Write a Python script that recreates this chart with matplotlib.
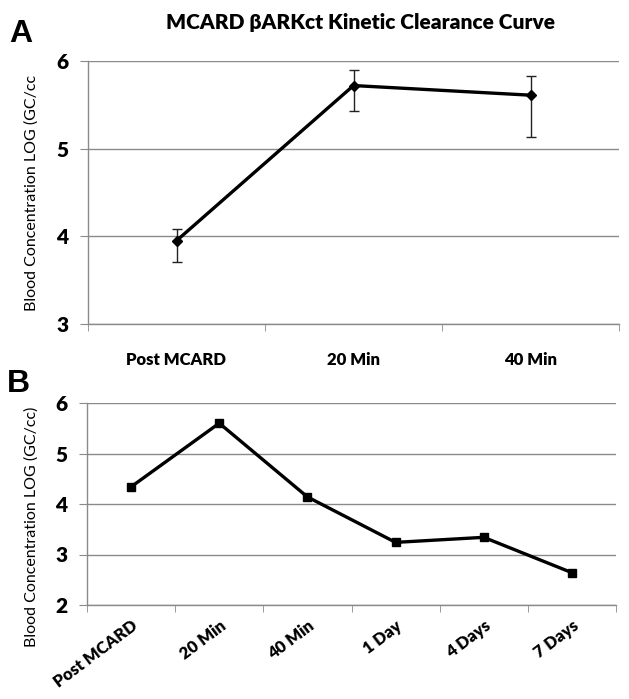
import numpy as np
import matplotlib
matplotlib.use('Agg')
import matplotlib.pyplot as plt

plt.rcParams['font.family'] = ['Lato', 'DejaVu Sans']

# Panel A: kinetic clearance, mean with error bars
cats_a = ['Post MCARD', '20 Min', '40 Min']
vals_a = [3.95, 5.72, 5.61]
err_lo_a = [3.71, 5.43, 5.13]
err_hi_a = [4.08, 5.90, 5.83]

# Panel B: longer time course
cats_b = ['Post MCARD', '20 Min', '40 Min', '1 Day', '4 Days', '7 Days']
vals_b = [4.34, 5.60, 4.14, 3.24, 3.34, 2.64]

GRID = '#8a8a8a'

fig = plt.figure(figsize=(6.29, 6.99), dpi=100)


def style_axes(ax, n, ymin, ymax):
    ax.set_xlim(0, n)
    ax.set_ylim(ymin, ymax)
    ax.set_yticks(range(ymin, ymax + 1))
    ax.yaxis.grid(True, color=GRID, linewidth=1.0)
    ax.set_axisbelow(True)
    for s in ['top', 'right']:
        ax.spines[s].set_visible(False)
    for s in ['left', 'bottom']:
        ax.spines[s].set_color(GRID)
        ax.spines[s].set_linewidth(1.0)
    ax.set_xticks(np.arange(n) + 0.5)
    ax.set_xticks(np.arange(n + 1), minor=True)
    ax.tick_params(axis='x', which='major', length=0)
    ax.tick_params(axis='x', which='minor', length=5, color=GRID, direction='out')
    ax.tick_params(axis='y', length=6, color=GRID, direction='out', pad=8,
                   labelsize=15)
    for lab in ax.get_yticklabels():
        lab.set_fontweight('heavy')


# --- Panel A ---
ax1 = fig.add_axes([88 / 629, 1 - 324 / 699, 531 / 629, 263 / 699])
x_a = np.arange(len(cats_a)) + 0.5
yerr_a = [np.array(vals_a) - np.array(err_lo_a), np.array(err_hi_a) - np.array(vals_a)]
ax1.errorbar(x_a, vals_a, yerr=yerr_a, color='black', linewidth=2.4, marker='D',
             markersize=5, ecolor='#222222', elinewidth=1.0, capsize=3.5, capthick=1.0)
style_axes(ax1, len(cats_a), 3, 6)
ax1.set_xticklabels(cats_a, fontsize=12, fontweight='heavy')
ax1.tick_params(axis='x', which='major', pad=20)

# --- Panel B ---
ax2 = fig.add_axes([87 / 629, 1 - 605 / 699, 529 / 629, 202 / 699])
x_b = np.arange(len(cats_b)) + 0.5
ax2.plot(x_b, vals_b, color='black', linewidth=2.4, marker='s', markersize=6)
style_axes(ax2, len(cats_b), 2, 6)
ax2.set_xticklabels(cats_b, fontsize=12, fontweight='heavy', rotation=37,
                    ha='right', rotation_mode='anchor')
ax2.tick_params(axis='x', which='major', pad=9)

# titles, axis labels and panel letters
fig.text(360 / 629, 1 - 22 / 699, 'MCARD βARKct Kinetic Clearance Curve',
         ha='center', va='center', fontsize=15, fontweight='heavy')
fig.text(32 / 629, 1 - 193 / 699, 'Blood Concentration LOG (GC/cc',
         rotation=90, ha='center', va='center', fontsize=11.5)
fig.text(32 / 629, 1 - 527 / 699, 'Blood Concentration LOG (GC/cc)',
         rotation=90, ha='center', va='center', fontsize=11.5)
fig.text(21 / 629, 1 - 34 / 699, 'A', ha='center', va='center', fontsize=23,
         fontweight='bold', family=['Liberation Sans', 'DejaVu Sans'])
fig.text(18 / 629, 1 - 384 / 699, 'B', ha='center', va='center', fontsize=23,
         fontweight='bold', family=['Liberation Sans', 'DejaVu Sans'])

fig.savefig('out.png', dpi=100)
